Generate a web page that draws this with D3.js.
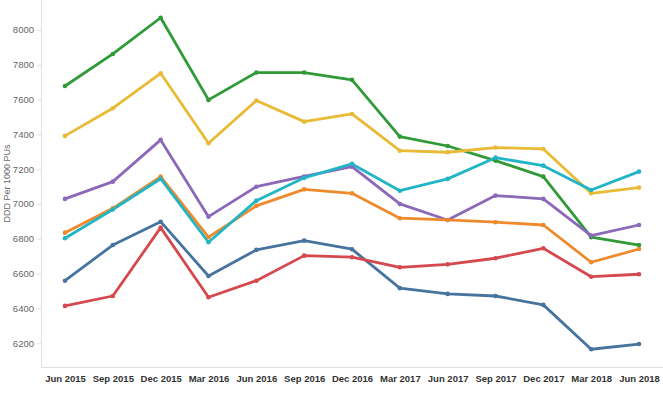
<!DOCTYPE html>
<html>
<head>
<meta charset="utf-8">
<script src="https://cdn.jsdelivr.net/npm/d3@7"></script>
<style>
  body { margin: 0; background: #fff; }
  svg { display: block; font-family: Arial, "Liberation Sans", sans-serif; }
</style>
</head>
<body>
<div id="chart-container"></div>
<script>
// Data
const quarters = ["Jun 2015", "Sep 2015", "Dec 2015", "Mar 2016", "Jun 2016", "Sep 2016", "Dec 2016",
  "Mar 2017", "Jun 2017", "Sep 2017", "Dec 2017", "Mar 2018", "Jun 2018"];
const yTicks = [6200, 6400, 6600, 6800, 7000, 7200, 7400, 7600, 7800, 8000];

const greenValues  = [7678, 7862, 8070, 7598, 7755, 7755, 7713, 7387, 7333, 7249, 7157, 6809, 6764];
const yellowValues = [7391, 7550, 7751, 7349, 7594, 7473, 7517, 7306, 7297, 7324, 7316, 7061, 7094];
const purpleValues = [7029, 7128, 7368, 6927, 7099, 7158, 7214, 7000, 6908, 7048, 7029, 6818, 6879];
const cyanValues   = [6803, 6968, 7145, 6780, 7019, 7150, 7230, 7076, 7144, 7266, 7220, 7080, 7186];
const orangeValues = [6835, 6975, 7157, 6809, 6989, 7084, 7061, 6918, 6908, 6895, 6879, 6665, 6741];
const blueValues   = [6559, 6764, 6898, 6586, 6736, 6789, 6740, 6516, 6483, 6471, 6420, 6165, 6195];
const redValues    = [6414, 6471, 6864, 6464, 6559, 6703, 6694, 6636, 6653, 6688, 6745, 6582, 6596];

const series = [
  {name: "green", color: "#2f9a37", values: greenValues},
  {name: "yellow", color: "#e9ba36", values: yellowValues},
  {name: "purple", color: "#8c68b9", values: purpleValues},
  {name: "orange", color: "#ef8a2c", values: orangeValues},
  {name: "cyan", color: "#22b5c5", values: cyanValues},
  {name: "blue", color: "#47739f", values: blueValues},
  {name: "red", color: "#d5494e", values: redValues}
];

const width = 663, height = 394;
const axisX = 41, axisBottom = 367;

const svg = d3.select("#chart-container")
  .append("svg")
  .attr("width", width)
  .attr("height", height);

// Scales
const x = d3.scalePoint()
  .domain(quarters)
  .range([65, 639]);

const y = d3.scaleLinear()
  .domain([6063, 8172])
  .range([axisBottom, 0]);

// Y axis
const yAxis = svg.append("g")
  .attr("transform", `translate(${axisX},0)`)
  .call(d3.axisLeft(y).tickValues(yTicks).tickSize(4).tickPadding(3).tickFormat(d3.format("d")));
yAxis.select(".domain").remove();
yAxis.selectAll(".tick line").attr("stroke", "#e2e2e2");
yAxis.selectAll(".tick text")
  .attr("fill", "#666")
  .style("font-size", "9.5px");

svg.append("line")
  .attr("x1", axisX + 0.5).attr("x2", axisX + 0.5)
  .attr("y1", 0).attr("y2", axisBottom)
  .attr("stroke", "#e0e0e0");

// X axis
const xAxis = svg.append("g")
  .attr("transform", `translate(0,${axisBottom})`)
  .call(d3.axisBottom(x).tickSize(0).tickPadding(8));
xAxis.select(".domain").remove();
xAxis.selectAll(".tick text")
  .attr("fill", "#333")
  .style("font-size", "9.5px")
  .style("font-weight", "bold");

svg.append("line")
  .attr("x1", axisX).attr("x2", width)
  .attr("y1", axisBottom + 0.5).attr("y2", axisBottom + 0.5)
  .attr("stroke", "#e0e0e0");

// Y axis title
svg.append("text")
  .attr("transform", `translate(10,${axisBottom / 2}) rotate(-90)`)
  .attr("text-anchor", "middle")
  .attr("fill", "#666")
  .style("font-size", "9px")
  .text("DDD Per 1000 PUs");

// Lines
const line = d3.line()
  .x((d, i) => x(quarters[i]))
  .y(d => y(d));

svg.selectAll(".line")
  .data(series)
  .join("path")
  .attr("class", "line")
  .attr("d", d => line(d.values))
  .attr("fill", "none")
  .attr("stroke", d => d.color)
  .attr("stroke-width", 2.8)
  .attr("stroke-linejoin", "round");

// Points
svg.selectAll(".pts")
  .data(series)
  .join("g")
  .attr("class", "pts")
  .attr("fill", d => d.color)
  .selectAll("circle")
  .data(d => d.values)
  .join("circle")
  .attr("cx", (d, i) => x(quarters[i]))
  .attr("cy", d => y(d))
  .attr("r", 2.3);
</script>
</body>
</html>
